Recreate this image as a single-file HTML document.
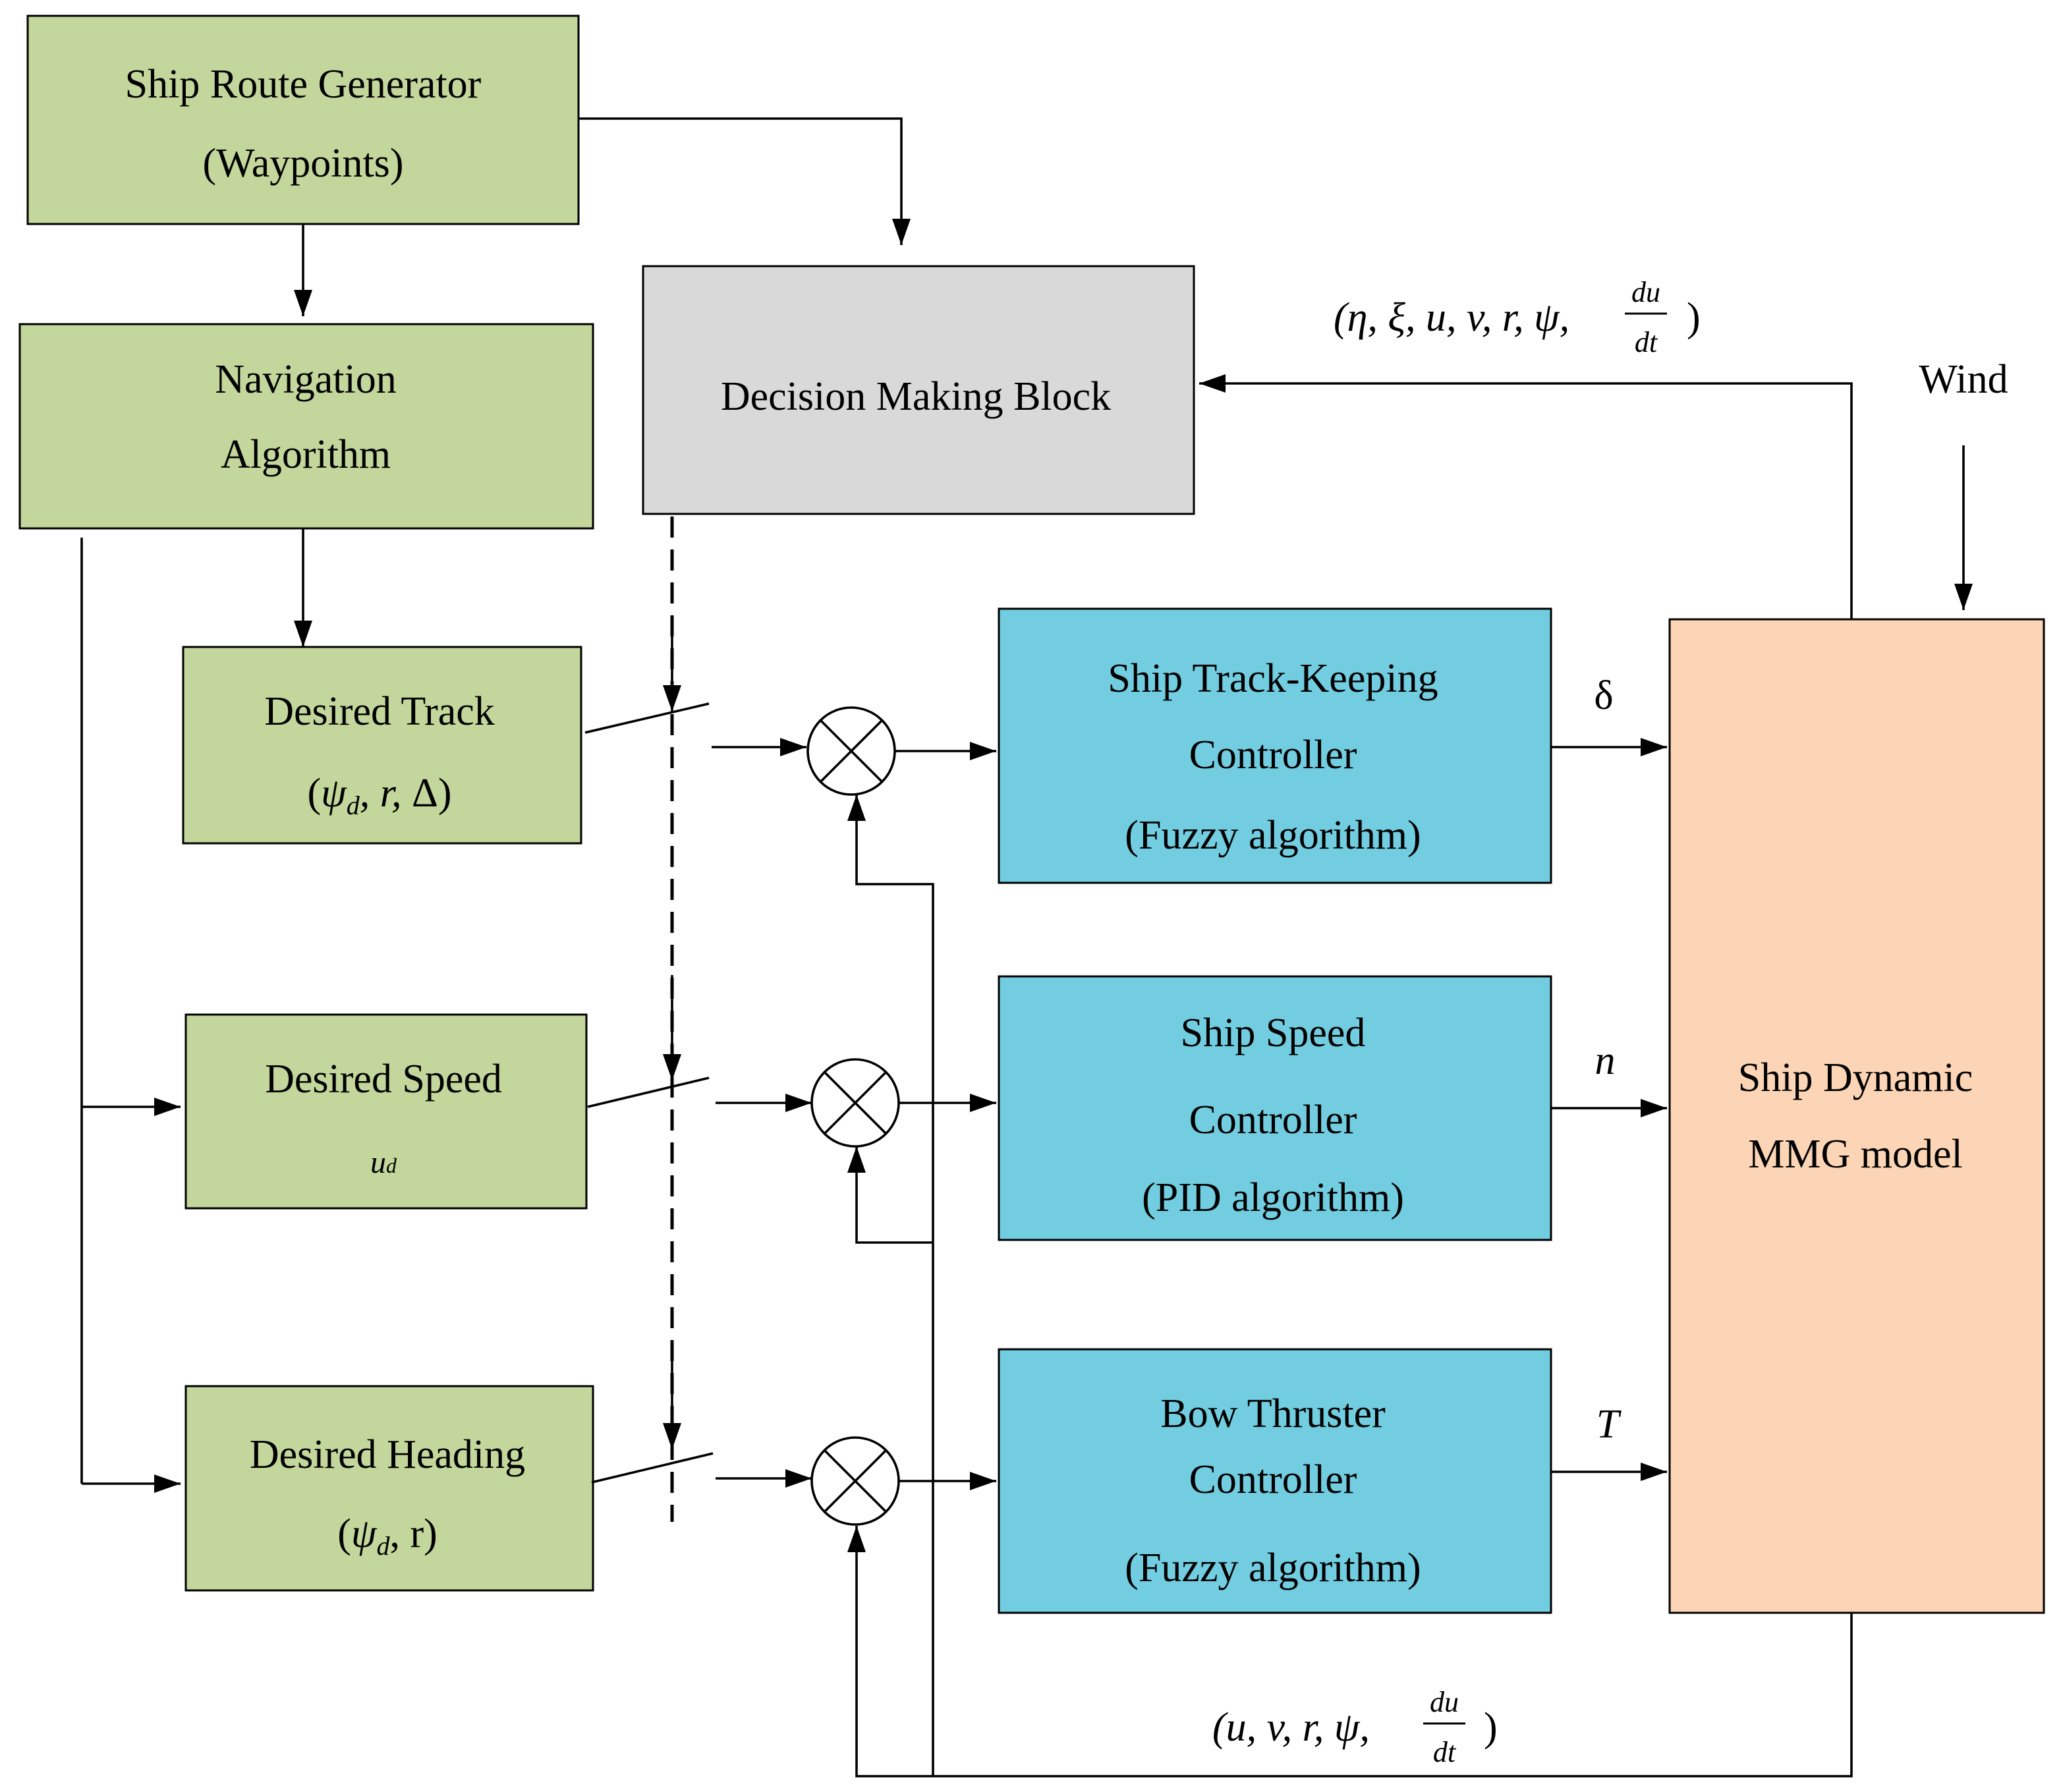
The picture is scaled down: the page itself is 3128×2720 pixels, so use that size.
<!DOCTYPE html>
<html><head><meta charset="utf-8"><style>html,body{margin:0;padding:0;background:#fff}svg{display:block}</style></head>
<body>
<svg width="3128" height="2720" viewBox="0 0 1564 1360" xmlns="http://www.w3.org/2000/svg" font-family="'Liberation Serif', serif" font-size="31" fill="#000">
<defs>
<marker id="b" markerWidth="20" markerHeight="14" refX="20" refY="7" orient="auto" markerUnits="userSpaceOnUse"><path d="M0,0 L20,7 L0,14 z" fill="#000"/></marker></defs>
<g stroke="#000" stroke-width="1.5">
<rect x="21" y="12" width="418" height="158" fill="#c3d69b"/>
<rect x="15" y="246" width="435" height="155" fill="#c3d69b"/>
<rect x="488" y="202" width="418" height="188" fill="#d9d9d9"/>
<rect x="139" y="491" width="302" height="149" fill="#c3d69b"/>
<rect x="141" y="770" width="304" height="147" fill="#c3d69b"/>
<rect x="141" y="1052" width="309" height="155" fill="#c3d69b"/>
<rect x="758" y="462" width="419" height="208" fill="#72cde0"/>
<rect x="758" y="741" width="419" height="200" fill="#72cde0"/>
<rect x="758" y="1024" width="419" height="200" fill="#72cde0"/>
<rect x="1267" y="470" width="284" height="754" fill="#fbd5b5"/>
</g>
<g stroke="#000" stroke-width="1.8" fill="none">
<path d="M439,90 H684 V186" marker-end="url(#b)"/>
<path d="M230,170 V240" marker-end="url(#b)"/>
<path d="M230,401 V491" marker-end="url(#b)"/>
<path d="M62,408 V1126"/>
<path d="M62,840 H137" marker-end="url(#b)"/>
<path d="M62,1126 H137" marker-end="url(#b)"/>
<path d="M510,392 V1155" stroke-dasharray="16,9" stroke-width="2.5"/>
<path d="M510,470 V540" marker-end="url(#b)"/>
<path d="M510,740 V820" marker-end="url(#b)"/>
<path d="M510,1020 V1100" marker-end="url(#b)"/>
<path d="M444,556 L538,534"/><path d="M446,840 L538,818"/><path d="M449,1125 L541,1103"/>
<path d="M540,567 H612" marker-end="url(#b)"/>
<path d="M543,837 H616" marker-end="url(#b)"/>
<path d="M543,1122 H616" marker-end="url(#b)"/>
<path d="M679,570 H756" marker-end="url(#b)"/>
<path d="M682,837 H756" marker-end="url(#b)"/>
<path d="M682,1124 H756" marker-end="url(#b)"/>
<path d="M1177,567 H1265" marker-end="url(#b)"/>
<path d="M1177,841 H1265" marker-end="url(#b)"/>
<path d="M1177,1117 H1265" marker-end="url(#b)"/>
<path d="M1405,1224 V1348 H650 V1158" marker-end="url(#b)"/>
<path d="M708,1348 V671 H650 V603" marker-end="url(#b)"/>
<path d="M708,943 H650 V870" marker-end="url(#b)"/>
<path d="M1405,470 V291 H910" marker-end="url(#b)"/>
<path d="M1490,338 V463" marker-end="url(#b)"/>
</g>
<g stroke="#000" stroke-width="1.8" fill="#fff">
<circle cx="646" cy="570" r="33"/><circle cx="649" cy="837" r="33"/><circle cx="649" cy="1124" r="33"/>
</g>
<g stroke="#000" stroke-width="1.8">
<path d="M623,547 L669,593 M669,547 L623,593"/>
<path d="M626,814 L672,860 M672,814 L626,860"/>
<path d="M626,1101 L672,1147 M672,1101 L626,1147"/>
</g>
<g text-anchor="middle">
<text x="230" y="74">Ship Route Generator</text>
<text x="230" y="134">(Waypoints)</text>
<text x="232" y="298">Navigation</text>
<text x="232" y="355">Algorithm</text>
<text x="695" y="311">Decision Making Block</text>
<text x="288" y="550">Desired Track</text>
<text x="288" y="612">(<tspan font-style="italic">ψ<tspan font-size="20" dy="6">d</tspan><tspan dy="-6">, r, </tspan></tspan>Δ)</text>
<text x="291" y="829">Desired Speed</text>
<text x="291" y="890" font-style="italic" font-size="24">u<tspan font-size="16">d</tspan></text>
<text x="294" y="1114">Desired Heading</text>
<text x="294" y="1174">(<tspan font-style="italic">ψ<tspan font-size="20" dy="6">d</tspan></tspan><tspan dy="-6">, r)</tspan></text>
<text x="966" y="525">Ship Track-Keeping</text>
<text x="966" y="583">Controller</text>
<text x="966" y="644">(Fuzzy algorithm)</text>
<text x="966" y="794">Ship Speed</text>
<text x="966" y="860">Controller</text>
<text x="966" y="919">(PID algorithm)</text>
<text x="966" y="1083">Bow Thruster</text>
<text x="966" y="1133">Controller</text>
<text x="966" y="1200">(Fuzzy algorithm)</text>
<text x="1408" y="828">Ship Dynamic</text>
<text x="1408" y="886">MMG model</text>
<text x="1490" y="298">Wind</text>
<text x="1217" y="538">δ</text>
<text x="1218" y="815" font-style="italic">n</text>
<text x="1220" y="1091" font-style="italic">T</text>
</g>
<text x="1012" y="251" font-style="italic">(η, ξ, u, v, r, ψ,</text>
<text x="1249" y="229" font-style="italic" font-size="22" text-anchor="middle">du</text>
<line x1="1233" y1="238" x2="1265" y2="238" stroke="#000" stroke-width="1.5"/>
<text x="1249" y="267" font-style="italic" font-size="22" text-anchor="middle">dt</text>
<text x="1280" y="251">)</text>
<text x="920" y="1321" font-style="italic">(u, v, r, ψ,</text>
<text x="1096" y="1299" font-style="italic" font-size="22" text-anchor="middle">du</text>
<line x1="1080" y1="1308" x2="1112" y2="1308" stroke="#000" stroke-width="1.5"/>
<text x="1096" y="1337" font-style="italic" font-size="22" text-anchor="middle">dt</text>
<text x="1126" y="1321">)</text>
</svg>
</body></html>
